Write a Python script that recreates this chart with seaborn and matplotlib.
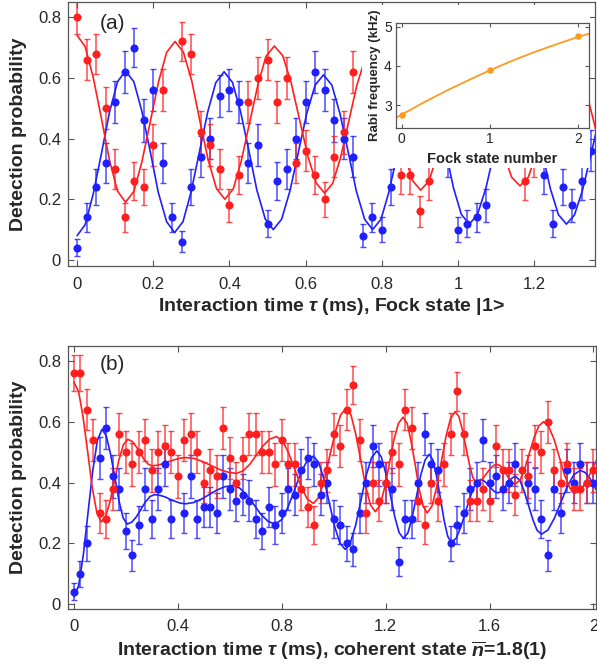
import matplotlib
matplotlib.use("Agg")
import matplotlib.pyplot as plt
import seaborn as sns
from matplotlib.patches import Rectangle
from matplotlib.ticker import FuncFormatter

# ---------------- panel (a): Fock state |1> ----------------
fock_red_t = [0, 0.025, 0.05, 0.075, 0.1, 0.125, 0.15, 0.175, 0.2, 0.225,
              0.275, 0.3, 0.325, 0.35, 0.375, 0.4, 0.425, 0.45, 0.475, 0.5,
              0.525, 0.55, 0.575, 0.6, 0.625, 0.65, 0.675, 0.7, 0.725,
              0.85, 0.875, 0.9, 0.925, 1.175, 1.2]
fock_red_p = [0.80, 0.66, 0.68, 0.50, 0.30, 0.14, 0.26, 0.24, 0.38, 0.56,
              0.72, 0.68, 0.42, 0.38, 0.30, 0.18, 0.28, 0.52, 0.60, 0.66,
              0.52, 0.60, 0.32, 0.36, 0.28, 0.20, 0.34, 0.42, 0.62,
              0.28, 0.28, 0.16, 0.26, 0.26, 0.34]
fock_red_err = [0.057, 0.067, 0.066, 0.07, 0.065, 0.049, 0.062, 0.06, 0.069, 0.07,
                0.063, 0.066, 0.07, 0.069, 0.065, 0.054, 0.063, 0.07, 0.069, 0.067,
                0.07, 0.069, 0.066, 0.068, 0.063, 0.057, 0.067, 0.07, 0.069,
                0.063, 0.063, 0.052, 0.062, 0.062, 0.067]

fock_blue_t = [0, 0.025, 0.05, 0.075, 0.1, 0.125, 0.15, 0.175, 0.2, 0.225,
               0.25, 0.275, 0.3, 0.325, 0.35, 0.375, 0.4, 0.425, 0.45, 0.475,
               0.5, 0.525, 0.55, 0.575, 0.6, 0.625, 0.65, 0.675, 0.7, 0.725,
               0.75, 0.775, 0.8, 0.825, 0.975, 1.0, 1.025, 1.05, 1.075,
               1.225, 1.25, 1.275, 1.3, 1.325, 1.35]
fock_blue_p = [0.04, 0.14, 0.24, 0.32, 0.52, 0.62, 0.70, 0.46, 0.56, 0.32,
               0.14, 0.06, 0.24, 0.34, 0.40, 0.54, 0.56, 0.52, 0.32, 0.38,
               0.12, 0.26, 0.30, 0.40, 0.52, 0.62, 0.56, 0.46, 0.40, 0.34,
               0.08, 0.14, 0.10, 0.24, 0.34, 0.10, 0.12, 0.14, 0.18,
               0.28, 0.12, 0.24, 0.18, 0.26, 0.36]
fock_blue_err = [0.028, 0.049, 0.06, 0.066, 0.07, 0.069, 0.065, 0.07, 0.07, 0.066,
                 0.049, 0.034, 0.06, 0.067, 0.069, 0.07, 0.07, 0.07, 0.066, 0.069,
                 0.046, 0.062, 0.065, 0.069, 0.07, 0.069, 0.07, 0.07, 0.069, 0.067,
                 0.038, 0.049, 0.042, 0.06, 0.067, 0.042, 0.046, 0.049, 0.054,
                 0.063, 0.046, 0.06, 0.054, 0.062, 0.068]

# fitted curves
fock_red_fit_t = [0.000, 0.021, 0.042, 0.064, 0.085, 0.106,
                  0.127, 0.149, 0.170, 0.192, 0.214, 0.235,
                  0.257, 0.279, 0.301, 0.322, 0.344, 0.366,
                  0.388, 0.410, 0.431, 0.453, 0.475, 0.496,
                  0.518, 0.540, 0.562, 0.584, 0.606, 0.628,
                  0.650, 0.671, 0.692, 0.713, 0.734, 0.755,
                  0.776, 0.797, 0.818, 0.839, 0.860, 0.881,
                  0.902, 0.924, 0.945, 0.967, 0.989, 1.010,
                  1.032, 1.054, 1.076, 1.098, 1.119, 1.141,
                  1.163, 1.185, 1.206, 1.228, 1.249, 1.271,
                  1.292, 1.313, 1.335, 1.356, 1.377]
fock_red_fit_p = [0.740, 0.703, 0.603, 0.465, 0.328, 0.227,
                  0.190, 0.226, 0.323, 0.455, 0.588, 0.684,
                  0.720, 0.685, 0.590, 0.460, 0.330, 0.235,
                  0.200, 0.234, 0.326, 0.453, 0.579, 0.671,
                  0.705, 0.673, 0.584, 0.463, 0.341, 0.253,
                  0.220, 0.252, 0.338, 0.455, 0.573, 0.659,
                  0.690, 0.659, 0.575, 0.460, 0.345, 0.261,
                  0.230, 0.260, 0.343, 0.455, 0.568, 0.650,
                  0.680, 0.651, 0.571, 0.462, 0.353, 0.273,
                  0.244, 0.273, 0.351, 0.457, 0.564, 0.641,
                  0.670, 0.642, 0.565, 0.460, 0.355]
fock_blue_fit_t = [0.000, 0.021, 0.042, 0.064, 0.085, 0.106,
                   0.127, 0.149, 0.170, 0.192, 0.213, 0.235,
                   0.256, 0.278, 0.299, 0.321, 0.343, 0.364,
                   0.386, 0.408, 0.429, 0.451, 0.472, 0.494,
                   0.515, 0.537, 0.559, 0.581, 0.603, 0.625,
                   0.647, 0.669, 0.690, 0.712, 0.733, 0.755,
                   0.776, 0.798, 0.819, 0.841, 0.862, 0.884,
                   0.905, 0.926, 0.947, 0.968, 0.988, 1.009,
                   1.030, 1.051, 1.073, 1.094, 1.115, 1.137,
                   1.158, 1.179, 1.200, 1.222, 1.243, 1.264,
                   1.285, 1.306, 1.327, 1.348, 1.368]
fock_blue_fit_p = [0.080, 0.116, 0.216, 0.352, 0.487, 0.587,
                   0.623, 0.587, 0.490, 0.357, 0.223, 0.126,
                   0.090, 0.126, 0.223, 0.355, 0.488, 0.584,
                   0.620, 0.585, 0.490, 0.360, 0.230, 0.135,
                   0.100, 0.134, 0.228, 0.355, 0.483, 0.576,
                   0.610, 0.576, 0.483, 0.355, 0.228, 0.134,
                   0.100, 0.134, 0.225, 0.350, 0.475, 0.567,
                   0.600, 0.568, 0.480, 0.359, 0.239, 0.150,
                   0.118, 0.149, 0.234, 0.349, 0.465, 0.549,
                   0.580, 0.549, 0.465, 0.349, 0.234, 0.149,
                   0.118, 0.148, 0.229, 0.339, 0.450]

# inset: Rabi frequency vs Fock state number
rabi_n = [0, 1, 2]
rabi_khz = [2.76, 3.89, 4.75]
rabi_fit_n = [-0.065, 0.25, 0.5, 0.75, 1.0, 1.25, 1.5, 1.75, 2.0, 2.12]
rabi_fit_khz = [2.68, 3.07, 3.36, 3.63, 3.89, 4.13, 4.35, 4.55, 4.74, 4.82]

# ---------------- panel (b): coherent state ----------------
coh_red_t = [0, 0.025, 0.05, 0.075, 0.1, 0.125, 0.15, 0.175, 0.2, 0.225,
             0.25, 0.275, 0.3, 0.325, 0.35, 0.375, 0.4, 0.425, 0.45, 0.475,
             0.5, 0.525, 0.55, 0.575, 0.6, 0.625, 0.65, 0.675, 0.7, 0.725,
             0.75, 0.775, 0.8, 0.825, 0.85, 0.875, 0.9, 0.925, 0.95, 0.975,
             1.0, 1.025, 1.05, 1.075, 1.1, 1.125, 1.15, 1.175, 1.2, 1.225,
             1.25, 1.275, 1.3, 1.325, 1.35, 1.375, 1.4, 1.425, 1.45, 1.475,
             1.5, 1.525, 1.55, 1.575, 1.6, 1.625, 1.65, 1.675, 1.7, 1.725,
             1.75, 1.775, 1.8, 1.825, 1.85, 1.875, 1.9, 1.925, 1.95, 1.975, 2.0]
coh_red_p = [0.76, 0.76, 0.64, 0.54, 0.30, 0.28, 0.38, 0.56, 0.50, 0.46,
             0.50, 0.54, 0.44, 0.50, 0.52, 0.50, 0.42, 0.54, 0.56, 0.50,
             0.40, 0.44, 0.42, 0.58, 0.48, 0.40, 0.48, 0.56, 0.56, 0.50,
             0.50, 0.46, 0.54, 0.46, 0.46, 0.38, 0.32, 0.26, 0.40, 0.44,
             0.56, 0.52, 0.64, 0.72, 0.54, 0.30, 0.40, 0.34, 0.40, 0.50,
             0.46, 0.64, 0.58, 0.34, 0.26, 0.40, 0.34, 0.46, 0.56, 0.70,
             0.56, 0.34, 0.34, 0.38, 0.34, 0.52, 0.44, 0.44, 0.36, 0.44,
             0.42, 0.52, 0.50, 0.60, 0.44, 0.40, 0.46, 0.38, 0.38, 0.40, 0.44]
coh_red_err = [0.06, 0.06, 0.068, 0.07, 0.065, 0.063, 0.069, 0.07, 0.07, 0.07,
               0.07, 0.07, 0.07, 0.07, 0.07, 0.07, 0.07, 0.07, 0.07, 0.07,
               0.069, 0.07, 0.07, 0.07, 0.07, 0.069, 0.07, 0.07, 0.07, 0.07,
               0.07, 0.07, 0.07, 0.07, 0.07, 0.069, 0.066, 0.062, 0.069, 0.07,
               0.07, 0.07, 0.068, 0.063, 0.07, 0.065, 0.069, 0.067, 0.069, 0.07,
               0.07, 0.068, 0.07, 0.067, 0.062, 0.069, 0.067, 0.07, 0.07, 0.065,
               0.07, 0.067, 0.067, 0.069, 0.067, 0.07, 0.07, 0.07, 0.068, 0.07,
               0.07, 0.07, 0.07, 0.069, 0.07, 0.069, 0.07, 0.069, 0.069, 0.069, 0.07]

coh_blue_t = [0, 0.025, 0.05, 0.1, 0.125, 0.15, 0.175, 0.2, 0.225, 0.25,
              0.275, 0.3, 0.325, 0.35, 0.375, 0.425, 0.45, 0.475, 0.5, 0.525,
              0.55, 0.575, 0.6, 0.625, 0.65, 0.675, 0.7, 0.725, 0.75, 0.775,
              0.8, 0.825, 0.85, 0.875, 0.9, 0.925, 0.95, 0.975, 1.0, 1.025,
              1.05, 1.075, 1.1, 1.125, 1.15, 1.175, 1.2, 1.225, 1.25, 1.275,
              1.3, 1.325, 1.35, 1.375, 1.4, 1.45, 1.475, 1.5, 1.525, 1.55,
              1.575, 1.6, 1.625, 1.65, 1.675, 1.7, 1.75, 1.775, 1.8, 1.825,
              1.85, 1.875, 1.9, 1.925, 1.95, 1.975, 2.0]
coh_blue_p = [0.04, 0.10, 0.20, 0.48, 0.58, 0.42, 0.38, 0.24, 0.16, 0.26,
              0.38, 0.28, 0.38, 0.46, 0.28, 0.30, 0.42, 0.28, 0.32, 0.32,
              0.30, 0.42, 0.38, 0.34, 0.36, 0.34, 0.28, 0.24, 0.32, 0.26,
              0.30, 0.38, 0.36, 0.44, 0.48, 0.46, 0.36, 0.40, 0.28, 0.26,
              0.20, 0.18, 0.30, 0.40, 0.52, 0.46, 0.40, 0.38, 0.14, 0.28,
              0.28, 0.40, 0.56, 0.46, 0.44, 0.20, 0.26, 0.30, 0.38, 0.40,
              0.54, 0.40, 0.42, 0.38, 0.40, 0.46, 0.40, 0.38, 0.28, 0.16,
              0.38, 0.30, 0.44, 0.40, 0.46, 0.40, 0.40]
coh_blue_err = [0.028, 0.042, 0.057, 0.07, 0.07, 0.07, 0.069, 0.06, 0.052, 0.062,
                0.069, 0.063, 0.069, 0.07, 0.063, 0.065, 0.07, 0.063, 0.066, 0.066,
                0.065, 0.07, 0.069, 0.067, 0.068, 0.067, 0.063, 0.06, 0.066, 0.062,
                0.065, 0.069, 0.068, 0.07, 0.07, 0.07, 0.068, 0.069, 0.063, 0.062,
                0.057, 0.054, 0.065, 0.069, 0.07, 0.07, 0.069, 0.069, 0.049, 0.063,
                0.063, 0.069, 0.07, 0.07, 0.07, 0.057, 0.062, 0.065, 0.069, 0.069,
                0.07, 0.069, 0.07, 0.069, 0.069, 0.07, 0.069, 0.069, 0.063, 0.052,
                0.069, 0.065, 0.07, 0.069, 0.07, 0.069, 0.069]

coh_red_fit_t = [0.000, 0.018, 0.035, 0.053, 0.070, 0.088,
                 0.105, 0.122, 0.139, 0.156, 0.173, 0.190,
                 0.207, 0.223, 0.238, 0.254, 0.269, 0.285,
                 0.300, 0.322, 0.343, 0.365, 0.387, 0.408,
                 0.430, 0.463, 0.495, 0.528, 0.560, 0.593,
                 0.625, 0.651, 0.677, 0.703, 0.728, 0.754,
                 0.780, 0.804, 0.827, 0.851, 0.875, 0.898,
                 0.922, 0.943, 0.964, 0.985, 1.006, 1.027,
                 1.048, 1.067, 1.085, 1.104, 1.123, 1.141,
                 1.160, 1.178, 1.196, 1.214, 1.231, 1.249,
                 1.267, 1.283, 1.298, 1.314, 1.329, 1.345,
                 1.360, 1.378, 1.396, 1.414, 1.432, 1.450,
                 1.468, 1.482, 1.495, 1.509, 1.523, 1.536,
                 1.550, 1.563, 1.576, 1.589, 1.602, 1.615,
                 1.628, 1.640, 1.652, 1.664, 1.676, 1.688,
                 1.700, 1.718, 1.736, 1.754, 1.772, 1.790,
                 1.808, 1.828, 1.849, 1.869, 1.889, 1.910,
                 1.930, 1.952, 1.973, 1.995, 2.017]
coh_red_fit_p = [0.730, 0.699, 0.615, 0.500, 0.385, 0.301,
                 0.270, 0.288, 0.338, 0.406, 0.474, 0.524,
                 0.542, 0.536, 0.520, 0.499, 0.477, 0.461,
                 0.455, 0.457, 0.462, 0.469, 0.475, 0.480,
                 0.482, 0.479, 0.469, 0.456, 0.443, 0.434,
                 0.430, 0.438, 0.460, 0.491, 0.521, 0.543,
                 0.551, 0.536, 0.496, 0.441, 0.386, 0.346,
                 0.331, 0.352, 0.409, 0.488, 0.566, 0.623,
                 0.644, 0.621, 0.559, 0.474, 0.389, 0.327,
                 0.304, 0.325, 0.382, 0.460, 0.537, 0.594,
                 0.615, 0.594, 0.536, 0.458, 0.379, 0.321,
                 0.300, 0.322, 0.383, 0.467, 0.550, 0.611,
                 0.633, 0.617, 0.575, 0.517, 0.458, 0.416,
                 0.400, 0.404, 0.415, 0.430, 0.445, 0.456,
                 0.460, 0.456, 0.444, 0.428, 0.411, 0.399,
                 0.395, 0.409, 0.446, 0.498, 0.549, 0.586,
                 0.600, 0.584, 0.541, 0.483, 0.424, 0.381,
                 0.365, 0.375, 0.404, 0.443, 0.481]
coh_blue_fit_t = [0.000, 0.018, 0.036, 0.054, 0.072, 0.090,
                  0.108, 0.124, 0.140, 0.157, 0.173, 0.189,
                  0.205, 0.223, 0.240, 0.258, 0.275, 0.293,
                  0.310, 0.330, 0.350, 0.370, 0.390, 0.410,
                  0.430, 0.460, 0.490, 0.520, 0.550, 0.580,
                  0.610, 0.638, 0.665, 0.693, 0.720, 0.748,
                  0.775, 0.800, 0.824, 0.849, 0.873, 0.898,
                  0.922, 0.942, 0.963, 0.983, 1.003, 1.024,
                  1.044, 1.064, 1.085, 1.105, 1.125, 1.146,
                  1.166, 1.183, 1.200, 1.218, 1.235, 1.252,
                  1.269, 1.286, 1.302, 1.319, 1.335, 1.352,
                  1.368, 1.382, 1.396, 1.411, 1.425, 1.439,
                  1.453, 1.472, 1.490, 1.509, 1.528, 1.546,
                  1.565, 1.576, 1.587, 1.599, 1.610, 1.621,
                  1.632, 1.643, 1.655, 1.666, 1.677, 1.689,
                  1.700, 1.717, 1.733, 1.750, 1.767, 1.783,
                  1.800, 1.825, 1.850, 1.875, 1.900, 1.925,
                  1.950, 1.968, 1.987, 2.005, 2.023]
coh_blue_fit_p = [0.024, 0.061, 0.162, 0.300, 0.437, 0.538,
                  0.575, 0.554, 0.497, 0.419, 0.341, 0.284,
                  0.263, 0.270, 0.287, 0.312, 0.336, 0.354,
                  0.360, 0.358, 0.353, 0.345, 0.338, 0.332,
                  0.330, 0.334, 0.345, 0.360, 0.375, 0.386,
                  0.390, 0.382, 0.358, 0.327, 0.295, 0.272,
                  0.263, 0.278, 0.319, 0.375, 0.431, 0.472,
                  0.487, 0.466, 0.410, 0.334, 0.257, 0.201,
                  0.180, 0.202, 0.261, 0.342, 0.423, 0.482,
                  0.504, 0.485, 0.432, 0.360, 0.288, 0.235,
                  0.216, 0.235, 0.285, 0.355, 0.424, 0.474,
                  0.493, 0.474, 0.421, 0.348, 0.276, 0.223,
                  0.203, 0.217, 0.255, 0.307, 0.358, 0.396,
                  0.410, 0.407, 0.399, 0.388, 0.377, 0.369,
                  0.366, 0.370, 0.380, 0.393, 0.407, 0.416,
                  0.420, 0.407, 0.373, 0.325, 0.278, 0.243,
                  0.230, 0.244, 0.283, 0.335, 0.388, 0.426,
                  0.440, 0.433, 0.413, 0.385, 0.358]

RED = "#ff1f1f"
BLUE = "#1f1fff"
ORANGE = "#ff9a1f"
FRAME = "#555555"

sns.set_style("ticks")
plt.rcParams["font.family"] = ["Liberation Sans", "DejaVu Sans"]
plt.rcParams["mathtext.fontset"] = "custom"
plt.rcParams["mathtext.rm"] = "Liberation Sans:bold"
plt.rcParams["mathtext.it"] = "Liberation Sans:bold:italic"
plt.rcParams["mathtext.bf"] = "Liberation Sans:bold"

fmt = FuncFormatter(lambda v, _: f"{v:g}")


def style_axis(ax, labelsize=12):
    for s in ax.spines.values():
        s.set_visible(True)
        s.set_color(FRAME)
        s.set_linewidth(0.9)
    ax.tick_params(direction="in", top=True, right=True, length=4, width=0.8,
                   color=FRAME, labelsize=labelsize, pad=5)
    ax.xaxis.set_major_formatter(fmt)
    ax.yaxis.set_major_formatter(fmt)


def draw_series(ax, t, p, err, fit_t, fit_p, color):
    ax.errorbar(t, p, yerr=err, fmt="none", ecolor=color, elinewidth=1.1,
                capsize=2.2, capthick=1.0, alpha=0.8, zorder=2)
    sns.lineplot(x=fit_t, y=fit_p, ax=ax, color=color, lw=1.2,
                 estimator=None, sort=False, zorder=3)
    sns.scatterplot(x=t, y=p, ax=ax, color=color, s=34, linewidth=0, zorder=4)


fig = plt.figure(figsize=(5.97, 6.66), dpi=100)

# ---- top panel ----
ax1 = fig.add_axes([68 / 597, 1 - 266 / 666, 527 / 597, 264 / 666])
draw_series(ax1, fock_blue_t, fock_blue_p, fock_blue_err, fock_blue_fit_t, fock_blue_fit_p, BLUE)
draw_series(ax1, fock_red_t, fock_red_p, fock_red_err, fock_red_fit_t, fock_red_fit_p, RED)
ax1.set_xlim(-0.024, 1.36)
ax1.set_ylim(-0.02, 0.85)
ax1.set_xticks([0, 0.2, 0.4, 0.6, 0.8, 1.0, 1.2])
ax1.set_yticks([0, 0.2, 0.4, 0.6, 0.8])
style_axis(ax1)
ax1.tick_params(axis="x", pad=8)
ax1.set_xlabel("Interaction time $\\tau$ (ms), Fock state |1>", fontsize=14,
               fontweight="bold", labelpad=3)
ax1.set_ylabel("Detection probability", fontsize=14, fontweight="bold", labelpad=8)
ax1.text(0.061, 0.92, "(a)", transform=ax1.transAxes, fontsize=15, va="center")

# white background behind the inset
ax1.add_artist(Rectangle((362 / 597, 1 - 168 / 666), 228 / 597, 163 / 666,
                         transform=fig.transFigure, facecolor="white",
                         edgecolor="none", zorder=6, clip_on=False))

# ---- inset ----
ins = fig.add_axes([396 / 597, 1 - 128.3 / 666, 193 / 597, 105.6 / 666])
sns.lineplot(x=rabi_fit_n, y=rabi_fit_khz, ax=ins, color=ORANGE, lw=1.3,
             estimator=None, sort=False)
sns.scatterplot(x=rabi_n, y=rabi_khz, ax=ins, color=ORANGE, s=22, linewidth=0, zorder=4)
ins.set_xlim(-0.065, 2.12)
ins.set_ylim(2.41, 5.10)
ins.set_xticks([0, 1, 2])
ins.set_yticks([3, 4, 5])
style_axis(ins, labelsize=10)
ins.tick_params(length=3, pad=3)
ins.set_xlabel("Fock state number", fontsize=10.5, fontweight="bold", labelpad=4)
ins.set_ylabel("Rabi frequency (kHz)", fontsize=9.5, fontweight="bold", labelpad=2)

# ---- bottom panel ----
ax2 = fig.add_axes([68 / 597, 1 - 609 / 666, 528 / 597, 263 / 666])
draw_series(ax2, coh_blue_t, coh_blue_p, coh_blue_err, coh_blue_fit_t, coh_blue_fit_p, BLUE)
draw_series(ax2, coh_red_t, coh_red_p, coh_red_err, coh_red_fit_t, coh_red_fit_p, RED)
ax2.set_xlim(-0.023, 2.01)
ax2.set_ylim(-0.016, 0.849)
ax2.set_xticks([0, 0.4, 0.8, 1.2, 1.6, 2.0])
ax2.set_yticks([0, 0.2, 0.4, 0.6, 0.8])
style_axis(ax2)
ax2.tick_params(axis="x", pad=7.5)
ax2.set_xlabel("Interaction time $\\tau$ (ms), coherent state $\\overline{n}$=1.8(1)",
               fontsize=14, fontweight="bold", labelpad=3.5)
ax2.set_ylabel("Detection probability", fontsize=14, fontweight="bold", labelpad=8)
ax2.text(0.061, 0.93, "(b)", transform=ax2.transAxes, fontsize=15, va="center")

fig.savefig("out.png", dpi=100)
